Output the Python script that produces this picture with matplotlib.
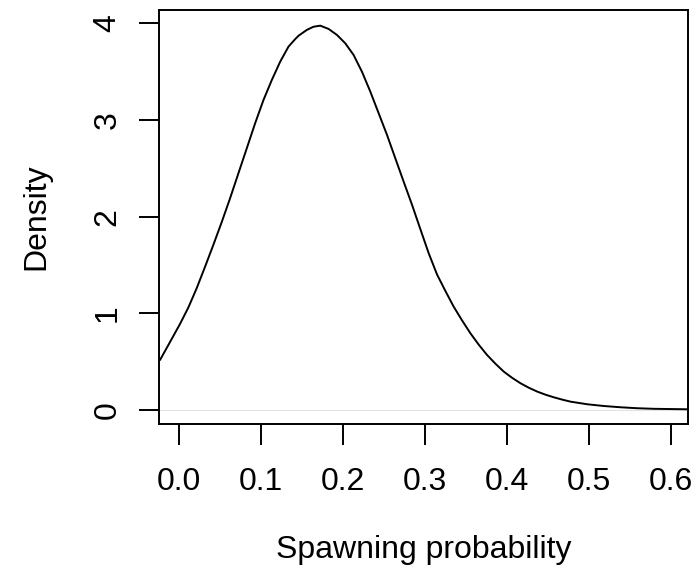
import numpy as np
import matplotlib
matplotlib.use("Agg")
from matplotlib import pyplot as plt

# density curve
prob = [-0.0232, -0.0171, -0.0089, 0.0012, 0.0114, 0.0216, 0.0318, 0.042, 0.0522,
        0.0623, 0.0725, 0.0827, 0.0929, 0.1031, 0.1133, 0.1235, 0.1336, 0.1418,
        0.1459, 0.156, 0.1642, 0.1724, 0.1826, 0.1928, 0.2029, 0.2131, 0.2233,
        0.2335, 0.2437, 0.2539, 0.264, 0.2742, 0.2845, 0.2946, 0.3048, 0.315,
        0.3252, 0.3353, 0.3456, 0.3557, 0.3659, 0.376, 0.3863, 0.3965, 0.4067,
        0.4169, 0.427, 0.4373, 0.4474, 0.4576, 0.4678, 0.478, 0.4984, 0.5187,
        0.539, 0.5595, 0.58, 0.6226]
dens = [0.517, 0.61, 0.735, 0.89, 1.06, 1.26, 1.482, 1.71, 1.945,
        2.189, 2.448, 2.706, 2.965, 3.206, 3.413, 3.602, 3.757, 3.835,
        3.87, 3.93, 3.963, 3.974, 3.94, 3.878, 3.792, 3.671, 3.498,
        3.292, 3.068, 2.844, 2.603, 2.361, 2.12, 1.87, 1.62, 1.40,
        1.23, 1.068, 0.925, 0.793, 0.675, 0.569, 0.478, 0.396, 0.332,
        0.276, 0.23, 0.19, 0.158, 0.131, 0.107, 0.086, 0.059, 0.041,
        0.028, 0.018, 0.012, 0.007]

xticks = [0.0, 0.1, 0.2, 0.3, 0.4, 0.5, 0.6]
yticks = [0, 1, 2, 3, 4]

plt.rcParams['font.family'] = ['Liberation Sans', 'DejaVu Sans']

W, H = 696, 582
fig = plt.figure(figsize=(W / 100, H / 100), dpi=100)
ax = fig.add_axes([159.3 / W, 1 - 424 / H, (688.3 - 159.3) / W, (424 - 10) / H])

# zero line, thin and gray like R's plot.density
ax.axhline(0, color='#e2e2e2', lw=0.7, zorder=1)
ax.plot(prob, dens, color='black', lw=1.4, zorder=2,
        solid_joinstyle='round', solid_capstyle='round')

ax.set_xticks(xticks)
ax.set_xticklabels(['%.1f' % v for v in xticks])
ax.set_yticks(yticks)
ax.set_yticklabels([str(v) for v in yticks], rotation=90, va='center')

for s in ['top', 'left', 'right', 'bottom']:
    ax.spines[s].set_linewidth(1.4)

ax.tick_params(axis='x', length=15, width=1.4, pad=16, labelsize=23)
ax.tick_params(axis='y', length=14.4, width=1.4, pad=12, labelsize=23)

ax.set_xlabel('Spawning probability', fontsize=23, labelpad=27)
ax.set_ylabel('Density', fontsize=23, labelpad=30)

ax.set_xlim(-0.0241, 0.6217)
ax.set_ylim(-0.145, 4.136)

fig.savefig('out.png', dpi=100)
